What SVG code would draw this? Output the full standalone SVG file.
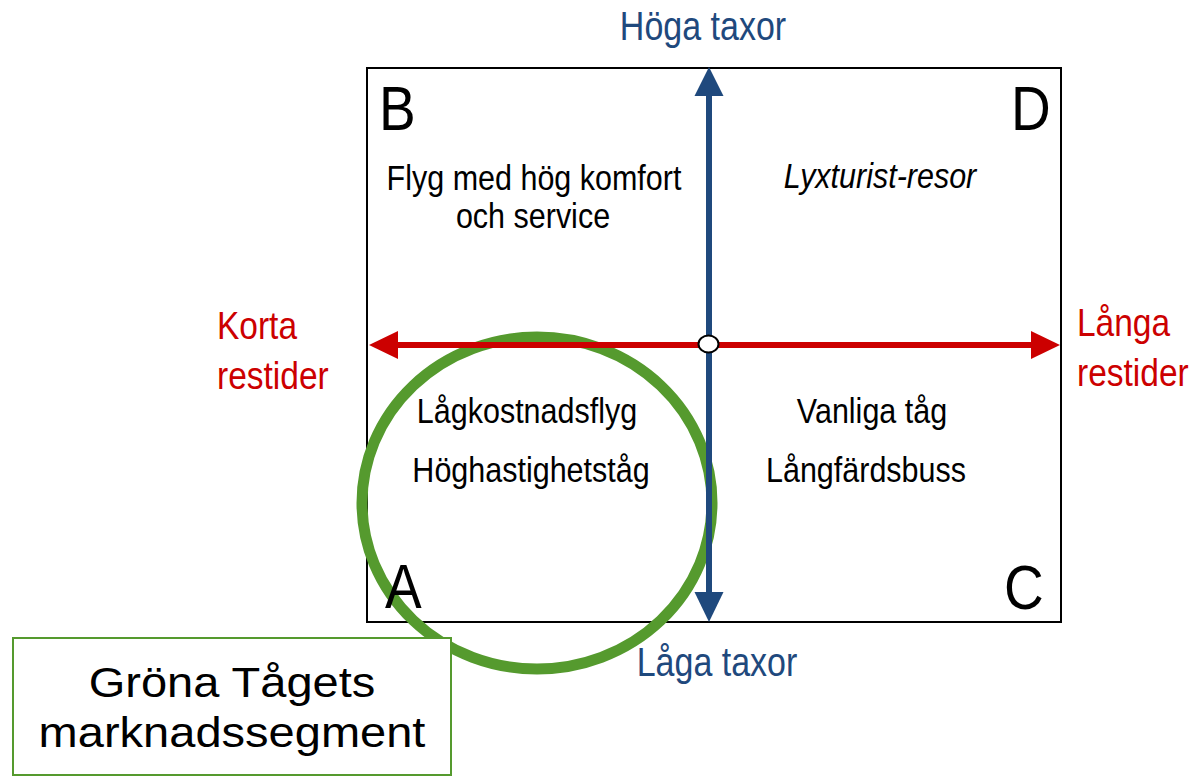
<svg xmlns="http://www.w3.org/2000/svg" width="1198" height="779" viewBox="0 0 1198 779">
  <style>
    text { font-family: "Liberation Sans", Arial, sans-serif; }
    .q { font-size: 30.5px; fill: #000; text-anchor: middle; }
    .letter { font-size: 55px; fill: #000; }
    .blue { font-size: 34px; fill: #1F497D; text-anchor: middle; }
    .red { font-size: 33.5px; fill: #CC0000; }
    .seg { font-size: 42px; fill: #000; text-anchor: middle; }
  </style>
  <rect width="1198" height="779" fill="#fff"/>
  <g id="frame">
    <rect x="367" y="68" width="694" height="554" fill="none" stroke="#000" stroke-width="2"/>
  </g>
  <g id="segment-circle">
    <ellipse cx="537" cy="503" rx="175" ry="166" fill="none" stroke="#559A2E" stroke-width="11"/>
  </g>
  <g id="connectors">
    <line x1="709" y1="94" x2="709" y2="594" stroke="#1F497D" stroke-width="6"/>
    <polygon points="709,67 694.5,96 723.5,96" fill="#1F497D"/>
    <polygon points="709,622 694.5,592 723.5,592" fill="#1F497D"/>
    <line x1="396" y1="345" x2="1033" y2="345" stroke="#CC0000" stroke-width="6"/>
    <polygon points="369,345 398,331 398,359" fill="#CC0000"/>
    <polygon points="1060,345 1031,331 1031,359" fill="#CC0000"/>
    <ellipse cx="708.5" cy="344" rx="10" ry="8.5" fill="#fff" stroke="#000" stroke-width="2"/>
  </g>
  <g id="axis-high"><text class="blue" transform="translate(703,40) scale(1,1.17)">Höga taxor</text></g>
  <g id="axis-low"><text class="blue" transform="translate(717,676) scale(1,1.17)">Låga taxor</text></g>
  <g id="axis-short">
    <text class="red" transform="translate(217,339) scale(1,1.14)">Korta</text>
    <text class="red" transform="translate(217,389) scale(1,1.14)">restider</text>
  </g>
  <g id="axis-long">
    <text class="red" transform="translate(1077,336) scale(1,1.14)">Långa</text>
    <text class="red" transform="translate(1077,386) scale(1,1.14)">restider</text>
  </g>
  <g id="quadrant-B">
    <text class="letter" transform="translate(379,130) scale(1,1.15)">B</text>
    <text class="q" transform="translate(534,190) scale(1,1.14)">Flyg med hög komfort</text>
    <text class="q" transform="translate(533,228) scale(1,1.14)">och service</text>
  </g>
  <g id="quadrant-D">
    <text class="letter" transform="translate(1011,130) scale(1,1.15)">D</text>
    <text class="q" font-style="italic" transform="translate(880,188) scale(1,1.14)">Lyxturist-resor</text>
  </g>
  <g id="quadrant-A">
    <text class="q" transform="translate(527,423) scale(1,1.14)">Lågkostnadsflyg</text>
    <text class="q" transform="translate(531,482) scale(1,1.14)">Höghastighetståg</text>
    <text class="letter" transform="translate(385,608) scale(1,1.15)">A</text>
  </g>
  <g id="quadrant-C">
    <text class="q" transform="translate(872,423) scale(1,1.14)">Vanliga tåg</text>
    <text class="q" transform="translate(866,482) scale(1,1.14)">Långfärdsbuss</text>
    <text class="letter" transform="translate(1004,609) scale(1,1.15)">C</text>
  </g>
  <g id="legend">
    <rect x="13" y="638" width="438" height="137" fill="#fff" stroke="#559A2E" stroke-width="2"/>
    <text class="seg" transform="translate(232,697) scale(1.12,1)">Gröna Tågets</text>
    <text class="seg" transform="translate(232,747) scale(1.12,1)">marknadssegment</text>
  </g>
</svg>
